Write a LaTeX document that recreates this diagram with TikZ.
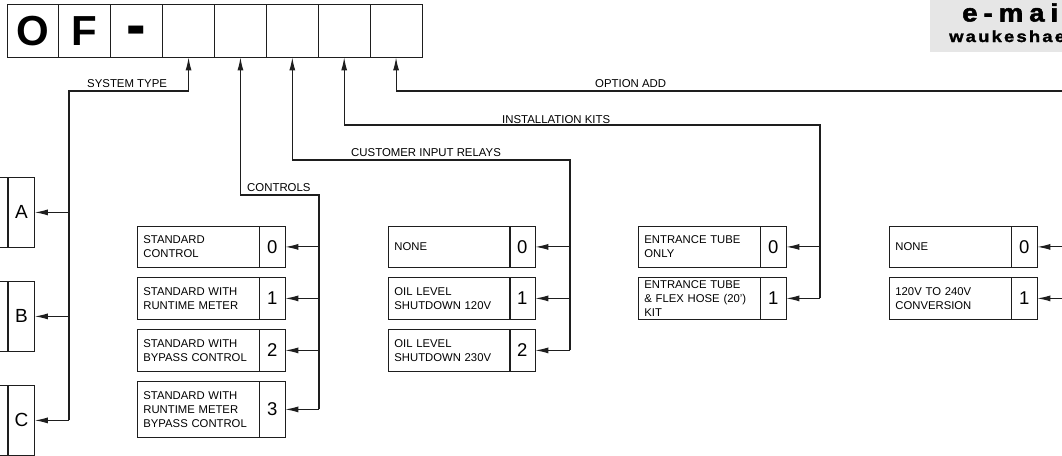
\documentclass[tikz,border=0pt]{standalone}
\usepackage{fontspec}
\usepackage{graphicx}
\setmainfont{Liberation Sans}
\usetikzlibrary{arrows.meta}
\definecolor{ln}{HTML}{1E1E1E}
\definecolor{gbg}{HTML}{E6E6E6}
\tikzset{
  cell/.style={draw=ln, line width=0.8pt, minimum width=51.875pt, minimum height=53pt, inner sep=0pt, text height=30pt, text depth=0pt, font=\fontsize{42}{42}\selectfont\bfseries},
  desc/.style={draw=ln, line width=0.8pt, anchor=north west, text width=110pt, inner xsep=6pt, inner ysep=0pt, align=left, font=\fontsize{11.3}{14}\selectfont},
  num/.style={draw=ln, line width=0.8pt, anchor=north west, minimum width=25.5pt, inner sep=0pt, font=\fontsize{18.5}{18.5}\selectfont},
  letterbox/.style={draw=ln, line width=0.8pt, anchor=north west, minimum width=26pt, minimum height=70pt, inner sep=0pt, font=\fontsize{19}{19}\selectfont},
  sidebox/.style={draw=ln, line width=0.8pt, anchor=north east, minimum width=120pt, minimum height=70pt, inner sep=0pt},
  wire/.style={draw=ln, line width=1.1pt},
  arr/.style={wire, -{Latex[length=13pt,width=6pt]}},
  tag/.style={anchor=base west, inner sep=0pt, font=\fontsize{11.4}{13}\selectfont},
}
\begin{document}
\begin{tikzpicture}[x=1pt,y=-1pt]
\clip (0,0) rectangle (1062,455);
% header email box
\fill[gbg] (930,0) rectangle (1070,52);
\node[anchor=base west, inner sep=0pt, font=\fontsize{25}{25}\selectfont\bfseries] (em) at (962,21.5) {\scalebox{1.1}[1]{\addfontfeature{LetterSpace=22,FakeBold=2}e-mai}};
\node[anchor=base west, inner sep=0pt, font=\fontsize{16}{16}\selectfont\bfseries] (web) at (949,42) {\scalebox{1.15}[1]{\addfontfeature{LetterSpace=12,FakeBold=1.5}waukeshae}};
% top code cells
\node[cell] (c1) at (32.94,30.5) {O};
\node[cell] (c2) at (84.81,30.5) {F};
\node[cell, text height=33pt] (c3) at (136.69,30.5) {\scalebox{1.4}[1.6]{-}};
\node[cell] (c4) at (188.56,30.5) {};
\node[cell] (c5) at (240.44,30.5) {};
\node[cell] (c6) at (292.31,30.5) {};
\node[cell] (c7) at (344.19,30.5) {};
\node[cell] (c8) at (396.06,30.5) {};
% system type
\node[sidebox] (ta) at (8,177) {};
\node[letterbox] (A) at (8,177) {A};
\node[sidebox] (tb) at (8,281) {};
\node[letterbox] (B) at (8,281) {B};
\node[sidebox] (tc) at (8,385) {};
\node[letterbox] (C) at (8,385) {C};
\coordinate (stT) at (69,91);
\draw[arr] (C.east -| stT) -- (stT) -| (c4.south);
\draw[arr] (A.east -| stT) -- (A.east);
\draw[arr] (B.east -| stT) -- (B.east);
\draw[arr] (C.east -| stT) -- (C.east);
\node[tag] (lst) at (87,87) {SYSTEM TYPE};
% controls
\node[desc, minimum height=41pt] (kd0) at (137,226) {STANDARD\\CONTROL};
\node[num, minimum height=41pt] (k0) at (259,226) {0};
\node[desc, minimum height=42pt] (kd1) at (137,277) {STANDARD WITH\\RUNTIME METER};
\node[num, minimum height=42pt] (k1) at (259,277) {1};
\node[desc, minimum height=42pt] (kd2) at (137,329) {STANDARD WITH\\BYPASS CONTROL};
\node[num, minimum height=42pt] (k2) at (259,329) {2};
\node[desc, minimum height=56pt] (kd3) at (137,381) {STANDARD WITH\\RUNTIME METER\\BYPASS CONTROL};
\node[num, minimum height=56pt] (k3) at (259,381) {3};
\coordinate (ctT) at (319,195);
\draw[arr] (k3.east -| ctT) -- (ctT) -| (c5.south);
\foreach \n in {k0,k1,k2,k3} \draw[arr] (\n.east -| ctT) -- (\n.east);
\node[tag] (lct) at (247,191) {CONTROLS};
% customer input relays
\node[desc, minimum height=41pt] (rd0) at (388,226) {NONE};
\node[num, minimum height=41pt] (r0) at (509,226) {0};
\node[desc, minimum height=42pt] (rd1) at (388,277) {OIL LEVEL\\SHUTDOWN 120V};
\node[num, minimum height=42pt] (r1) at (509,277) {1};
\node[desc, minimum height=42pt] (rd2) at (388,329) {OIL LEVEL\\SHUTDOWN 230V};
\node[num, minimum height=42pt] (r2) at (509,329) {2};
\coordinate (rlT) at (570,160);
\draw[arr] (r2.east -| rlT) -- (rlT) -| (c6.south);
\foreach \n in {r0,r1,r2} \draw[arr] (\n.east -| rlT) -- (\n.east);
\node[tag] (lrl) at (351,156) {CUSTOMER INPUT RELAYS};
% installation kits
\node[desc, minimum height=41pt] (id0) at (638,226) {ENTRANCE TUBE\\ONLY};
\node[num, minimum height=41pt] (i0) at (760,226) {0};
\node[desc, minimum height=42pt] (id1) at (638,277) {ENTRANCE TUBE\\\& FLEX HOSE (20')\\KIT};
\node[num, minimum height=42pt] (i1) at (760,277) {1};
\coordinate (ikT) at (820,125);
\draw[arr] (i1.east -| ikT) -- (ikT) -| (c7.south);
\foreach \n in {i0,i1} \draw[arr] (\n.east -| ikT) -- (\n.east);
\node[tag] (lik) at (502,123) {INSTALLATION KITS};
% option add
\node[desc, minimum height=41pt] (od0) at (889,226) {NONE};
\node[num, minimum height=41pt] (o0) at (1011,226) {0};
\node[desc, minimum height=42pt] (od1) at (889,277) {120V TO 240V\\CONVERSION};
\node[num, minimum height=42pt] (o1) at (1011,277) {1};
\coordinate (oaT) at (1100,91);
\draw[arr] (o1.east -| oaT) -- (oaT) -| (c8.south);
\foreach \n in {o0,o1} \draw[arr] (\n.east -| oaT) -- (\n.east);
\node[tag] (loa) at (595,87) {OPTION ADD};
\end{tikzpicture}
\end{document}
